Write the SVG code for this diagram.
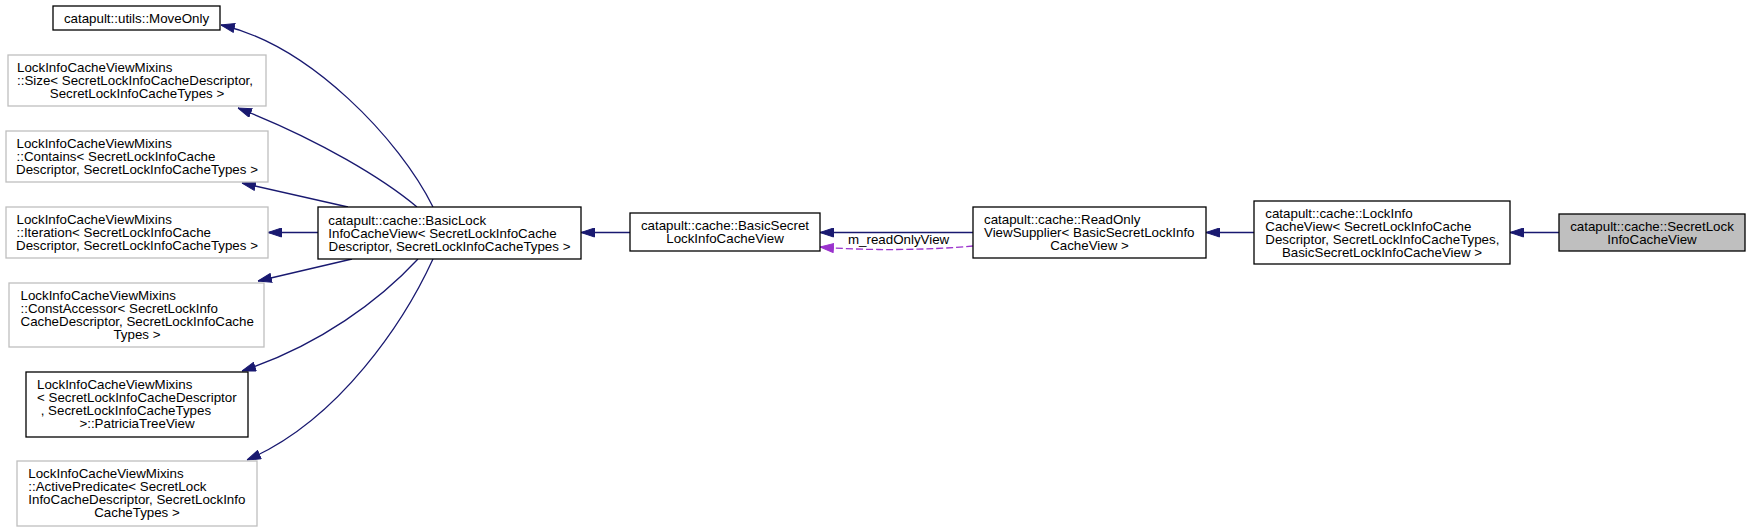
<svg xmlns="http://www.w3.org/2000/svg" width="1750" height="532" viewBox="0 0 1750 532">
<style>
text{font-family:"Liberation Sans",Arial,Helvetica,sans-serif;font-size:13.33px;fill:#000}
.m{text-anchor:middle}
.b{fill:#fff;stroke:#000;stroke-width:1.3}
.g{fill:#fff;stroke:#bfbfbf;stroke-width:1.3}
.s{fill:#bfbfbf;stroke:#000;stroke-width:1.3}
.e{fill:none;stroke:#191970;stroke-width:1.3;marker-end:url(#ah)}
.d{fill:none;stroke:#9a32cd;stroke-width:1.3;stroke-dasharray:7,3;marker-end:url(#ahp)}
</style>
<defs>
<marker id="ah" viewBox="0 0 14 10" refX="14" refY="5" markerWidth="14" markerHeight="10" markerUnits="userSpaceOnUse" orient="auto"><path d="M0.5,0.5 L14,5 L0.5,9.5 z" fill="#191970" stroke="#191970"/></marker>
<marker id="ahp" viewBox="0 0 14 10" refX="14" refY="5" markerWidth="14" markerHeight="10" markerUnits="userSpaceOnUse" orient="auto"><path d="M0.5,0.5 L14,5 L0.5,9.5 z" fill="#9a32cd" stroke="#9a32cd"/></marker>
</defs>
<rect x="0" y="0" width="1750" height="532" fill="#fff"/>
<g id="edges">
<path class="e" d="M433,207 C400,140 310,45 221,25"/>
<path class="e" d="M417,207 C385,180 320,140 238,108"/>
<path class="e" d="M348,207 L242,183"/>
<path class="e" d="M318,232.5 L268,232.5"/>
<path class="e" d="M352,259 L258,281"/>
<path class="e" d="M418,259 C380,300 320,345 242,371"/>
<path class="e" d="M433,259 C405,320 340,420 247,460"/>
<path class="e" d="M630,232.5 L581,232.5"/>
<path class="e" d="M973,232.5 L820,232.5"/>
<path class="d" d="M973,246 C930,250 870,251 820,247"/>
<text x="848" y="244">m_readOnlyView</text>
<path class="e" d="M1254,232.5 L1206,232.5"/>
<path class="e" d="M1559,232.5 L1510,232.5"/>
</g>
<g id="moveonly">
<rect class="b" x="53" y="6" width="167" height="24"/>
<text class="m" x="136.5" y="22.5">catapult::utils::MoveOnly</text>
</g>
<g id="size">
<rect class="g" x="8" y="55" width="258" height="51"/>
<text x="17" y="72">LockInfoCacheViewMixins</text>
<text x="17" y="85">::Size&lt; SecretLockInfoCacheDescriptor,</text>
<text class="m" x="137" y="98">SecretLockInfoCacheTypes &gt;</text>
</g>
<g id="contains">
<rect class="g" x="6" y="131" width="262" height="51"/>
<text x="16.5" y="148">LockInfoCacheViewMixins</text>
<text x="16.5" y="161">::Contains&lt; SecretLockInfoCache</text>
<text class="m" x="137" y="174">Descriptor, SecretLockInfoCacheTypes &gt;</text>
</g>
<g id="iteration">
<rect class="g" x="6" y="207" width="262" height="51"/>
<text x="16.5" y="224">LockInfoCacheViewMixins</text>
<text x="16.5" y="237">::Iteration&lt; SecretLockInfoCache</text>
<text class="m" x="137" y="250">Descriptor, SecretLockInfoCacheTypes &gt;</text>
</g>
<g id="constaccessor">
<rect class="g" x="9" y="283" width="255" height="64"/>
<text x="20.5" y="299.5">LockInfoCacheViewMixins</text>
<text x="20.5" y="312.5">::ConstAccessor&lt; SecretLockInfo</text>
<text x="20.5" y="325.5">CacheDescriptor, SecretLockInfoCache</text>
<text class="m" x="137" y="338.5">Types &gt;</text>
</g>
<g id="patricia">
<rect class="b" x="26" y="372" width="222" height="65"/>
<text x="37" y="389">LockInfoCacheViewMixins</text>
<text x="37" y="402">&lt; SecretLockInfoCacheDescriptor</text>
<text x="40.7" y="415">, SecretLockInfoCacheTypes</text>
<text class="m" x="137" y="428">&gt;::PatriciaTreeView</text>
</g>
<g id="activepredicate">
<rect class="g" x="17" y="461" width="240" height="65"/>
<text x="28.3" y="478">LockInfoCacheViewMixins</text>
<text x="28.3" y="491">::ActivePredicate&lt; SecretLock</text>
<text x="28.3" y="504">InfoCacheDescriptor, SecretLockInfo</text>
<text class="m" x="137" y="517">CacheTypes &gt;</text>
</g>
<g id="basiclock">
<rect class="b" x="318" y="207" width="263" height="52"/>
<text x="328.3" y="224.5">catapult::cache::BasicLock</text>
<text x="328.3" y="237.5">InfoCacheView&lt; SecretLockInfoCache</text>
<text class="m" x="449.5" y="250.5">Descriptor, SecretLockInfoCacheTypes &gt;</text>
</g>
<g id="basicsecret">
<rect class="b" x="630" y="213" width="190" height="38"/>
<text class="m" x="725" y="230">catapult::cache::BasicSecret</text>
<text class="m" x="725" y="243">LockInfoCacheView</text>
</g>
<g id="readonly">
<rect class="b" x="973" y="207" width="233" height="51"/>
<text x="984" y="224">catapult::cache::ReadOnly</text>
<text x="984" y="237">ViewSupplier&lt; BasicSecretLockInfo</text>
<text class="m" x="1089.5" y="250">CacheView &gt;</text>
</g>
<g id="lockinfo">
<rect class="b" x="1254" y="201" width="256" height="63"/>
<text x="1265.3" y="217.5">catapult::cache::LockInfo</text>
<text x="1265.3" y="230.5">CacheView&lt; SecretLockInfoCache</text>
<text x="1265.3" y="243.5">Descriptor, SecretLockInfoCacheTypes,</text>
<text class="m" x="1382" y="256.5">BasicSecretLockInfoCacheView &gt;</text>
</g>
<g id="secretlock">
<rect class="s" x="1559" y="214" width="186" height="37"/>
<text class="m" x="1652" y="230.5">catapult::cache::SecretLock</text>
<text class="m" x="1652" y="243.5">InfoCacheView</text>
</g>
</svg>
